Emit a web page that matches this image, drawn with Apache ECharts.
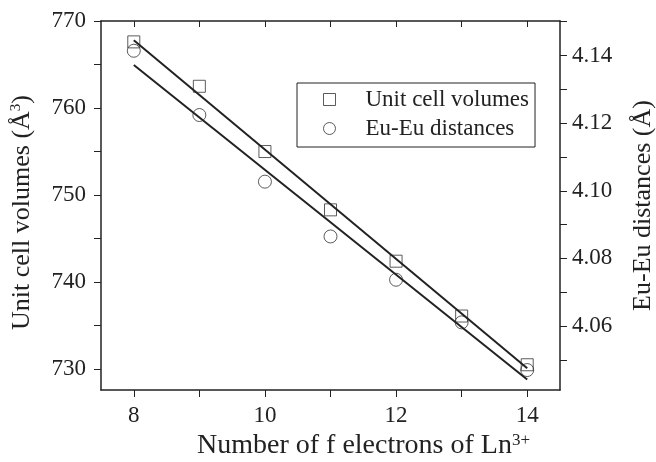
<!DOCTYPE html>
<html>
<head>
<meta charset="utf-8">
<script src="https://cdn.jsdelivr.net/npm/echarts@6/dist/echarts.min.js"></script>
<style>
  html, body { margin: 0; padding: 0; background: #fff; }
  #main { width: 656px; height: 462px; }
</style>
</head>
<body>
<div id="main"></div>
<script>
// number of f electrons of Ln3+
var fElectrons = [8, 9, 10, 11, 12, 13, 14];
// unit cell volumes (Å^3), left axis
var cellVolumes = [767.6, 762.5, 755.0, 748.3, 742.4, 736.1, 730.5];
// Eu-Eu distances (Å), right axis
var euEuDistances = [4.1414, 4.1224, 4.1027, 4.0865, 4.0737, 4.0611, 4.0470];
// fitted straight lines, end points
var fitX = [8, 14];
var volumeFit = [767.8, 730.1];
var distanceFit = [4.1372, 4.0442];

var xTicks = [8, 9, 10, 11, 12, 13, 14];
var xLabels = [8, 10, 12, 14];
var leftTicks = [730, 735, 740, 745, 750, 755, 760, 765, 770];
var leftLabels = [730, 740, 750, 760, 770];
var rightTicks = [4.05, 4.06, 4.07, 4.08, 4.09, 4.10, 4.11, 4.12, 4.13, 4.14, 4.15];
var rightLabels = [4.06, 4.08, 4.10, 4.12, 4.14];

function pairs(xs, ys) {
    return xs.map(function (x, i) { return [x, ys[i]]; });
}

var font = 'Liberation Serif';
var ink = '#222';
var axisLine = { show: true, lineStyle: { color: ink, width: 1.5 } };
var tickLabel = { color: ink, fontFamily: font, fontSize: 23 };

var myChart = echarts.init(document.getElementById('main'));
myChart.setOption({
    animation: false,
    grid: { left: 101, right: 96, top: 21, bottom: 72, outerBoundsMode: 'none' },
    legend: {
        orient: 'vertical',
        left: 297,
        top: 83,
        padding: [5, 6, 7, 24],
        itemGap: 6,
        itemWidth: 12,
        itemHeight: 12,
        borderColor: ink,
        borderWidth: 1,
        textStyle: { fontFamily: font, fontSize: 23, color: ink, lineHeight: 22, padding: [0, 0, 0, 25] },
        data: [
            { name: 'Unit cell volumes', icon: 'rect', itemStyle: { color: 'none', borderColor: '#333', borderWidth: 1 } },
            { name: 'Eu-Eu distances', icon: 'circle', itemStyle: { color: 'none', borderColor: '#333', borderWidth: 1 } }
        ]
    },
    xAxis: [{
        type: 'value',
        min: 7.5,
        max: 14.5,
        name: 'Number of f electrons of Ln{sup|3+}',
        nameLocation: 'middle',
        nameGap: 41,
        nameTextStyle: {
            fontFamily: font, fontSize: 28, color: ink, lineHeight: 28,
            padding: [0, 0, 0, 66],
            rich: { sup: { fontFamily: font, fontSize: 17, verticalAlign: 'top', lineHeight: 28, color: ink } }
        },
        axisLine: axisLine,
        axisTick: { inside: false, length: 7, customValues: xTicks, lineStyle: { color: ink } },
        axisLabel: Object.assign({ margin: 14, customValues: xLabels }, tickLabel),
        splitLine: { show: false }
    }, {
        type: 'value',
        position: 'top',
        min: 7.5,
        max: 14.5,
        axisLine: axisLine,
        axisTick: { inside: true, length: 6, customValues: xTicks, lineStyle: { color: ink } },
        axisLabel: { show: false },
        splitLine: { show: false }
    }],
    yAxis: [{
        type: 'value',
        min: 727.6,
        max: 770,
        name: 'Unit cell volumes (Å{sup|3})',
        nameLocation: 'middle',
        nameGap: 66,
        nameTextStyle: {
            fontFamily: font, fontSize: 26, color: ink, lineHeight: 26,
            padding: [0, 14, 0, 0],
            rich: { sup: { fontFamily: font, fontSize: 15, verticalAlign: 'top', lineHeight: 26, color: ink } }
        },
        axisLine: axisLine,
        axisTick: { inside: false, length: 7, customValues: leftTicks, lineStyle: { color: ink } },
        axisLabel: Object.assign({ margin: 15, customValues: leftLabels }, tickLabel),
        splitLine: { show: false }
    }, {
        type: 'value',
        position: 'right',
        min: 4.0411,
        max: 4.1502,
        name: 'Eu-Eu distances (Å)',
        nameLocation: 'middle',
        nameGap: 70,
        nameTextStyle: { fontFamily: font, fontSize: 26, color: ink, lineHeight: 26 },
        axisLine: axisLine,
        axisTick: { inside: false, length: 7, customValues: rightTicks, lineStyle: { color: ink } },
        axisLabel: Object.assign({
            margin: 12,
            customValues: rightLabels,
            formatter: function (v) { return v.toFixed(2); }
        }, tickLabel),
        splitLine: { show: false }
    }],
    series: [{
        name: 'Unit cell volumes fit',
        type: 'line',
        yAxisIndex: 0,
        data: pairs(fitX, volumeFit),
        showSymbol: false,
        lineStyle: { color: ink, width: 2 },
        silent: true
    }, {
        name: 'Eu-Eu distances fit',
        type: 'line',
        yAxisIndex: 1,
        data: pairs(fitX, distanceFit),
        showSymbol: false,
        lineStyle: { color: ink, width: 2 },
        silent: true
    }, {
        name: 'Unit cell volumes',
        type: 'scatter',
        yAxisIndex: 0,
        symbol: 'rect',
        symbolSize: 12,
        data: pairs(fElectrons, cellVolumes),
        itemStyle: { color: 'none', borderColor: '#333', borderWidth: 1 }
    }, {
        name: 'Eu-Eu distances',
        type: 'scatter',
        yAxisIndex: 1,
        symbol: 'circle',
        symbolSize: 13,
        data: pairs(fElectrons, euEuDistances),
        itemStyle: { color: 'none', borderColor: '#333', borderWidth: 1 }
    }]
});
</script>
</body>
</html>
